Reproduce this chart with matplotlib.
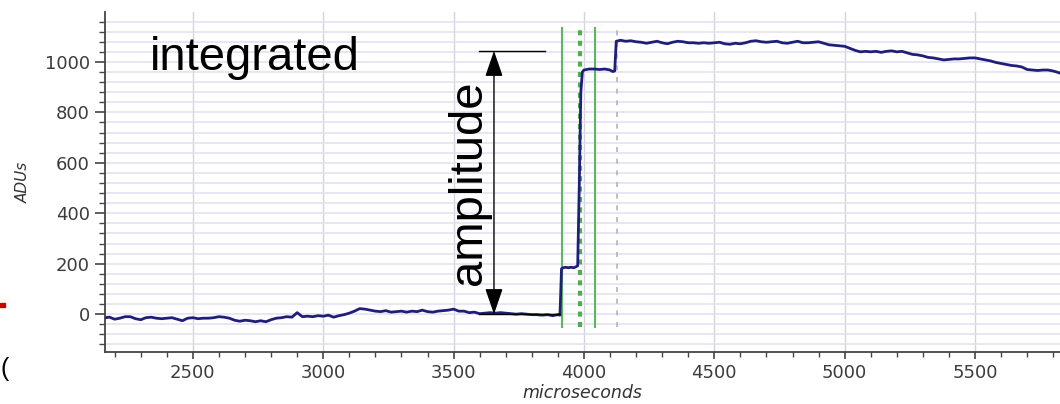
import matplotlib
matplotlib.use("Agg")
import matplotlib.pyplot as plt
from matplotlib.ticker import MultipleLocator

# trace (microseconds, ADUs)
time_us = [2163, 2180, 2200, 2220, 2240, 2260, 2280, 2300, 2320, 2340, 2360, 2380,
           2400, 2420, 2440, 2460, 2480, 2500, 2520, 2540, 2560, 2580, 2600, 2620,
           2640, 2660, 2680, 2700, 2720, 2740, 2760, 2780, 2800, 2820, 2840, 2860,
           2880, 2900, 2920, 2940, 2960, 2980, 3000, 3020, 3040, 3060, 3080, 3100,
           3120, 3140, 3160, 3180, 3200, 3220, 3240, 3260, 3280, 3300, 3320, 3340,
           3360, 3380, 3400, 3420, 3440, 3460, 3480, 3500, 3520, 3540, 3560, 3580,
           3600, 3620, 3640, 3660, 3680, 3700, 3720, 3740, 3760, 3780, 3800, 3820,
           3840, 3860, 3880, 3900, 3908,
           3914, 3920, 3930, 3940, 3950, 3960, 3970, 3976, 3982, 3988, 3994,
           4000, 4020, 4040, 4060, 4080, 4100, 4110, 4118,
           4124, 4140, 4160, 4180, 4200, 4220, 4240, 4260, 4280, 4300, 4320, 4340,
           4360, 4380, 4400, 4420, 4440, 4460, 4480, 4500, 4520, 4540, 4560, 4580,
           4600, 4620, 4640, 4660, 4680, 4700, 4720, 4740, 4760, 4780, 4800, 4820,
           4840, 4860, 4880, 4900, 4920, 4940, 4960, 4980, 5000, 5020, 5040, 5060,
           5080, 5100, 5120, 5140, 5160, 5180, 5200, 5220, 5240, 5260, 5280, 5300,
           5320, 5340, 5360, 5380, 5400, 5420, 5440, 5460, 5480, 5500, 5520, 5540,
           5560, 5580, 5600, 5620, 5640, 5660, 5680, 5700, 5720, 5740, 5760, 5780,
           5800, 5820, 5840]
adus = [-14, -12, -20, -16, -10, -10, -18, -22, -14, -12, -16, -18,
        -16, -14, -20, -26, -16, -14, -18, -16, -16, -14, -10, -12,
        -16, -24, -28, -24, -26, -30, -26, -30, -22, -16, -14, -10,
        -12, 6, -10, -8, -10, -6, -8, -4, -12, -6, -2, 4,
        12, 22, 20, 16, 12, 10, 14, 8, 10, 12, 8, 12,
        10, 16, 10, 8, 12, 14, 16, 20, 12, 12, 6, 8,
        2, 4, 6, 4, 6, 4, 2, 0, 2, 0, -2, -2,
        -4, -2, -6, -2, -4,
        180, 184, 186, 184, 186, 184, 188, 192, 500, 880, 960,
        968, 972, 972, 970, 972, 968, 962, 964,
        1082, 1086, 1082, 1084, 1080, 1078, 1074, 1078, 1082, 1076, 1072, 1078,
        1082, 1080, 1076, 1076, 1074, 1076, 1074, 1076, 1078, 1072, 1070, 1074,
        1072, 1076, 1082, 1084, 1080, 1078, 1080, 1082, 1076, 1074, 1078, 1082,
        1076, 1076, 1078, 1080, 1074, 1068, 1066, 1064, 1062, 1054, 1046, 1040,
        1042, 1040, 1042, 1038, 1042, 1044, 1040, 1042, 1036, 1030, 1028, 1024,
        1018, 1016, 1012, 1008, 1010, 1012, 1012, 1014, 1016, 1016, 1012, 1008,
        1004, 998, 994, 990, 986, 984, 980, 970, 968, 966, 968, 968,
        964, 958, 950]

# marker lines and the hand-drawn amplitude annotation
green_solid = [3914, 4044]
green_dotted = [3983]
gray_dashed = [4128]
marker_range = [-50, 1135]
amp_x = 3655
amp_low, amp_high = 0, 1044

fig = plt.figure(figsize=(10.6, 4.04), dpi=100)
ax = fig.add_axes([105 / 1060, 52 / 404, 1 - 105 / 1060, (352 - 12) / 404])

ax.set_xlim(2163, 5826)
ax.set_ylim(-150, 1198)
ax.xaxis.set_major_locator(MultipleLocator(500))
ax.xaxis.set_minor_locator(MultipleLocator(100))
ax.yaxis.set_major_locator(MultipleLocator(200))
ax.yaxis.set_minor_locator(MultipleLocator(40))

ax.grid(which='both', axis='y', color='#e0e0f0', lw=1.1)
ax.grid(which='major', axis='x', color='#d4d4dc', lw=1.0)
ax.set_axisbelow(True)

for s in ['top', 'right']:
    ax.spines[s].set_visible(False)
for s in ['left', 'bottom']:
    ax.spines[s].set_color('#444444')
    ax.spines[s].set_linewidth(1.3)

ax.tick_params(axis='y', which='major', length=7, width=1.2, color='#444444',
               labelsize=13, labelcolor='#3c3c3c', pad=4)
ax.tick_params(axis='y', which='minor', length=4, width=1.0, color='#444444')
ax.tick_params(axis='x', which='major', length=5, width=1.2, color='#444444',
               labelsize=13, labelcolor='#3c3c3c', pad=4)
ax.tick_params(axis='x', which='minor', length=3.5, width=1.0, color='#444444')

ax.set_xlabel('microseconds', fontsize=12.5, style='italic', color='#333333', labelpad=1)
ax.set_ylabel('ADUs', fontsize=11, style='italic', color='#333333', labelpad=10)

for x in green_solid:
    ax.plot([x, x], marker_range, color='#5cb85c', lw=1.5, zorder=3)
for x in green_dotted:
    ax.plot([x, x], marker_range, color='#4cae4c', lw=3, ls=(0, (1.2, 1.3)), zorder=3)
for x in gray_dashed:
    ax.plot([x, x], marker_range, color='#b4b4b4', lw=1.2, ls=(0, (3, 4)), zorder=3)

ax.plot(time_us, adus, color='#1f1f7a', lw=2.0, zorder=4)

# annotation overlay
ax.plot([3596, 3852], [amp_high, amp_high], color='black', lw=1, zorder=5)
ax.plot([3596, 3910], [amp_low, amp_low], color='black', lw=1, zorder=5)
ax.annotate('', xy=(amp_x, amp_high), xytext=(amp_x, amp_low),
            arrowprops=dict(arrowstyle='<|-|>,head_length=1.6,head_width=0.55',
                            mutation_scale=10, color='black', lw=1, shrinkA=0, shrinkB=0),
            zorder=6)
ax.text(2335, 968, 'integrated', fontsize=34, family='Liberation Sans', va='baseline', zorder=6)
ax.text(3607, 520, 'amplitude', fontsize=34, family='Liberation Sans', rotation=90,
        rotation_mode='anchor', ha='center', va='baseline', zorder=6)

# slide remnants at the left edge
fig.patches.append(plt.Rectangle((0, 97 / 404), 5 / 1060, 4 / 404, color='#cc0000',
                                 transform=fig.transFigure, figure=fig))
fig.text(0.0, 0.07, '(', fontsize=18, family='Liberation Sans', color='black')

fig.savefig('out.png', dpi=100)
